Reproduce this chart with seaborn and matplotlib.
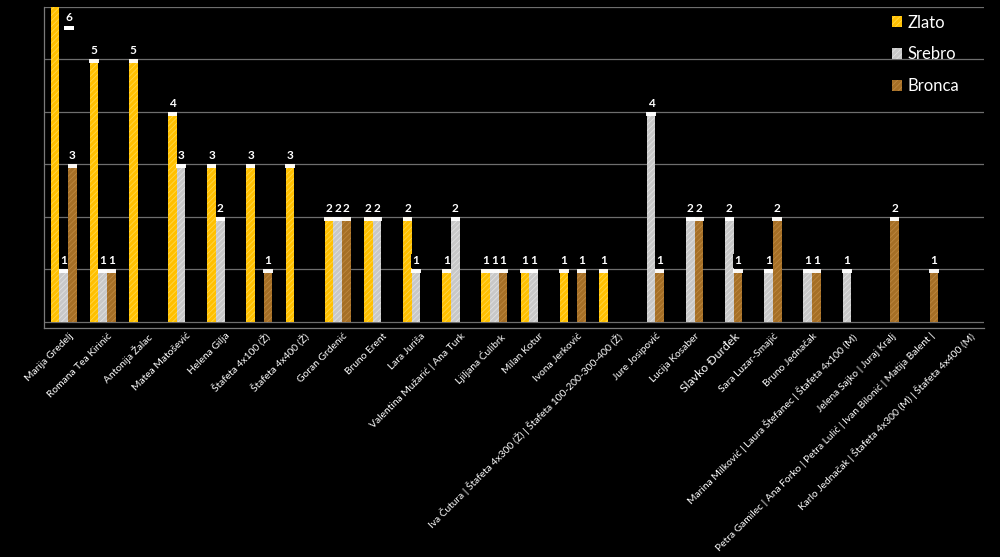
import numpy as np
import pandas as pd
import matplotlib
matplotlib.use("Agg")
import matplotlib.pyplot as plt
from matplotlib.patches import Rectangle, Patch
from matplotlib.transforms import ScaledTranslation
import seaborn as sns

osobe = [
    "Marija Gredelj", "Romana Tea Kirinić", "Antonija Žalac", "Matea Matošević",
    "Helena Gilja", "Štafeta 4x100 (Ž)", "Štafeta 4x400 (Ž)", "Goran Grdenić",
    "Bruno Erent", "Lara Juriša", "Valentina Mužarić | Ana Turk", "Ljiljana Ćulibrk",
    "Milan Kotur", "Ivona Jerković",
    "Iva Čutura | Štafeta 4x300 (Ž) | Štafeta 100-200-300-400 (Ž)",
    "Jure Josipović", "Lucija Kosaber", "Slavko Đurđek", "Sara Luzar-Smajić",
    "Bruno Jednačak", "Marina Milković | Laura Štefanec | Štafeta 4x100 (M)",
    "Jelena Sajko | Juraj Kralj",
    "Petra Gamilec | Ana Forko | Petra Lulić | Ivan Bilonić | Matija Balent |",
    "Karlo Jednačak | Štafeta 4x300 (M) | Štafeta 4x400 (M)",
]
zlato  = [6, 5, 5, 4, 3, 3, 3, 2, 2, 2, 1, 1, 1, 1, 1, 0, 0, 0, 0, 0, 0, 0, 0, 0]
srebro = [1, 1, 0, 3, 2, 0, 0, 2, 2, 1, 2, 1, 1, 0, 0, 4, 2, 2, 1, 1, 1, 0, 0, 0]
bronca = [3, 1, 0, 0, 0, 1, 0, 2, 0, 0, 0, 1, 0, 1, 0, 1, 2, 1, 2, 1, 0, 2, 1, 0]
medalje = ["Zlato", "Srebro", "Bronca"]

boje = {"Zlato": "#FFC000", "Srebro": "#C8C8C8", "Bronca": "#A56F26"}
pruge = {"Zlato": "#FFD84A", "Srebro": "#E2E2E2", "Bronca": "#BE8840"}

df = pd.DataFrame({
    "osoba": osobe * 3,
    "medalja": ["Zlato"] * len(osobe) + ["Srebro"] * len(osobe) + ["Bronca"] * len(osobe),
    "broj": zlato + srebro + bronca,
})

sns.set_style("dark")
plt.rcParams["font.family"] = ["Lato", "DejaVu Sans"]
plt.rcParams["hatch.linewidth"] = 0.6

fig = plt.figure(figsize=(10, 5.57), dpi=100, facecolor="black")
ax = fig.add_axes([0.044, 0.411, 0.940, 0.577])
ax.set_facecolor("black")

sns.barplot(data=df, x="osoba", y="broj", hue="medalja", hue_order=medalje,
            palette=boje, width=0.66, ax=ax, legend=False, saturation=1)

YTOP = 6.0
ax.set_ylim(-0.12, YTOP)
ax.set_xlim(-0.5, len(osobe) - 0.5)

box = dict(boxstyle="square,pad=0.1", fc="black", ec="none")
for cont, med in zip(ax.containers, medalje):
    for p in cont.patches:
        p.set_edgecolor(pruge[med])
        p.set_linewidth(0)
        p.set_hatch("//////")
        h = p.get_height()
        if h <= 0:
            continue
        x = p.get_x()
        w = p.get_width()
        xc = x + w / 2
        if h >= YTOP:
            # label shifted inside, as in the original
            lx = xc + 1.65 * w
            ax.add_patch(Rectangle((lx - w / 2 - 0.02, YTOP - 0.44), w + 0.04, 0.07,
                                   facecolor="white", lw=0, zorder=4))
            ax.text(lx, YTOP - 0.2, f"{int(h)}", color="white", fontsize=8.5,
                    fontweight="bold", ha="center", va="center", zorder=5, bbox=box)
        else:
            ax.add_patch(Rectangle((x - 0.01, h - 0.08), w + 0.02, 0.08,
                                   facecolor="white", lw=0, alpha=0.95, zorder=4))
            ax.annotate(f"{int(h)}", (xc, h), xytext=(0, 6), textcoords="offset points",
                        color="white", fontsize=8.5, fontweight="bold",
                        ha="center", va="center", zorder=5, bbox=box)

# axes styling
ax.set_xlabel("")
ax.set_ylabel("")
ax.set_yticks(range(0, 7))
ax.set_yticklabels([])
ax.yaxis.grid(True, color="#6e6e6e", lw=0.9)
ax.xaxis.grid(False)
ax.set_axisbelow(True)
ax.tick_params(axis="y", direction="in", length=6, color="#7a7a7a", width=0.9)
for s in ["top", "right"]:
    ax.spines[s].set_visible(False)
for s in ["left", "bottom"]:
    ax.spines[s].set_visible(True)
    ax.spines[s].set_color("#7a7a7a")
    ax.spines[s].set_linewidth(0.9)

ax.set_xticks(range(len(osobe)))
ax.set_xticks(np.arange(-0.5, len(osobe), 1), minor=True)
ax.tick_params(axis="x", which="major", length=0, pad=6)
ax.tick_params(axis="x", which="minor", length=5, color="#7a7a7a", width=0.9, direction="out")
ax.set_xticklabels(osobe, rotation=45, ha="right", rotation_mode="anchor",
                   color="white", fontsize=7.4)
shift = ScaledTranslation(5 / 100, 5 / 100, fig.dpi_scale_trans)
for lab in ax.get_xticklabels():
    lab.set_transform(lab.get_transform() + shift)
    if lab.get_text() == "Slavko Đurđek":
        lab.set_fontsize(8.8)

handles = [Patch(facecolor=boje[m], edgecolor=pruge[m], hatch="//////", lw=0, label=m)
           for m in medalje]
leg = ax.legend(handles=handles, loc="upper right", bbox_to_anchor=(0.99, 1.022),
                frameon=False, fontsize=12, labelcolor="white",
                handlelength=0.6, handleheight=0.6, handletextpad=0.35, labelspacing=0.95)

fig.savefig("out.png", dpi=100, facecolor="black")
